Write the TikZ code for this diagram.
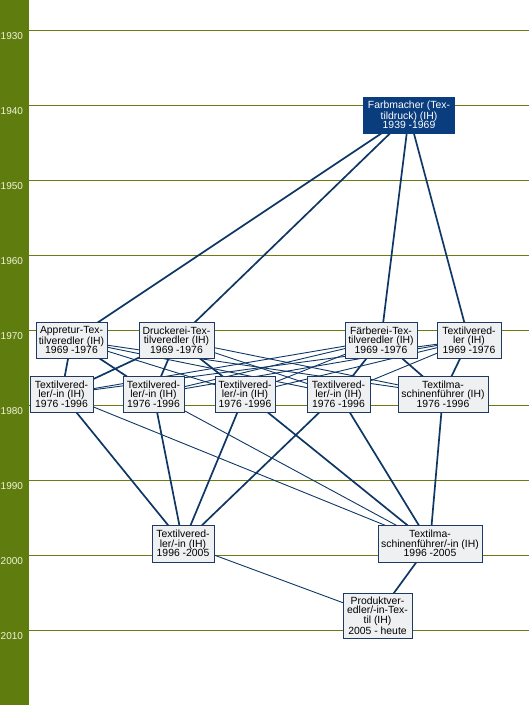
\documentclass[tikz,border=0pt]{standalone}
\usepackage{fontspec}
\setmainfont{Liberation Sans}
\usetikzlibrary{backgrounds}
\definecolor{barcol}{HTML}{5F7D0E}
\definecolor{gridcol}{HTML}{6E7A12}
\definecolor{yearcol}{HTML}{F2F2DA}
\definecolor{edgecol}{HTML}{0F3766}
\definecolor{boxfill}{HTML}{EFF0F2}
\definecolor{boxdraw}{HTML}{1E3A62}
\definecolor{topfill}{HTML}{0A3D7E}
\pgfdeclarelayer{gridlayer}
\pgfdeclarelayer{edgelayer}
\pgfsetlayers{gridlayer,edgelayer,main}
\begin{document}
\begin{tikzpicture}[x=1pt,y=-1pt,
  box/.style={draw=boxdraw, fill=boxfill, text=black, line width=0.7pt,
    font=\fontsize{10.4}{9.6}\selectfont, align=center, inner sep=0pt, minimum height=36pt},
  topbox/.style={box, fill=topfill, draw=topfill, text=white},
  thick edge/.style={draw=edgecol, line width=1.7pt},
  thin edge/.style={draw=edgecol, line width=0.9pt},
  yearlab/.style={text=yearcol, font=\fontsize{10}{10}\selectfont, anchor=west, inner sep=0pt},
  gridline/.style={draw=gridcol, line width=0.8pt}]
\useasboundingbox (0,0) rectangle (529,705);
\begin{pgfonlayer}{gridlayer}
\fill[barcol] (0,0) rectangle (29,705);
\foreach \yr [count=\i from 0] in {1930,1940,1950,1960,1970,1980,1990,2000,2010} {
  \draw[gridline] (29,30+75*\i) -- (529,30+75*\i);
  \node[yearlab] (y\yr) at (0.5,36.5+75*\i) {\yr};
}
\end{pgfonlayer}

\node[topbox, minimum width=91pt] (F) at (409,115) {Farbmacher (Tex-\\tildruck) (IH)\\1939 -1969};
\node[box, minimum width=71pt] (A) at (71.5,340) {Appretur-Tex-\\tilveredler (IH)\\1969 -1976};
\node[box, minimum width=75pt] (D) at (176.5,340) {Druckerei-Tex-\\tilveredler (IH)\\1969 -1976};
\node[box, minimum width=72pt] (Fae) at (381,340) {Färberei-Tex-\\tilveredler (IH)\\1969 -1976};
\node[box, minimum width=64pt] (T69) at (469,340) {Textilvered-\\ler (IH)\\1969 -1976};
\node[box, minimum width=63pt] (T1) at (61.5,394) {Textilvered-\\ler/-in (IH)\\1976 -1996};
\node[box, minimum width=61pt] (T2) at (153.5,394) {Textilvered-\\ler/-in (IH)\\1976 -1996};
\node[box, minimum width=60pt] (T3) at (245,394) {Textilvered-\\ler/-in (IH)\\1976 -1996};
\node[box, minimum width=63pt] (T4) at (338.5,394) {Textilvered-\\ler/-in (IH)\\1976 -1996};
\node[box, minimum width=90pt] (TM) at (443,394) {Textilma-\\schinenführer (IH)\\1976 -1996};
\node[box, minimum width=62pt, minimum height=37pt] (T96) at (183,543.5) {Textilvered-\\ler/-in (IH)\\1996 -2005};
\node[box, minimum width=104pt, minimum height=37pt] (TM96) at (430,543.5) {Textilma-\\schinenführer/-in (IH)\\1996 -2005};
\node[box, minimum width=69pt, minimum height=45pt] (P) at (377.5,615.5) {Produktver-\\edler/-in-Tex-\\til (IH)\\2005 - heute};

\begin{pgfonlayer}{edgelayer}
\foreach \a/\b in {F/A,F/D,F/Fae,F/T69,A/T1,A/T2,D/T1,D/T2,D/T3,Fae/T4,Fae/TM,T69/TM,
  T1/T96,T2/T96,T3/T96,T4/T96,T3/TM96,T4/TM96,TM/TM96,TM96/P}
  \draw[thick edge] (\a.center) -- (\b.center);
\foreach \a/\b in {A/T3,A/T4,A/TM,D/T4,D/TM,Fae/T1,Fae/T2,Fae/T3,T69/T1,T69/T2,T69/T3,T69/T4,
  T1/TM96,T2/TM96,T96/P}
  \draw[thin edge] (\a.center) -- (\b.center);
\end{pgfonlayer}
\end{tikzpicture}
\end{document}
